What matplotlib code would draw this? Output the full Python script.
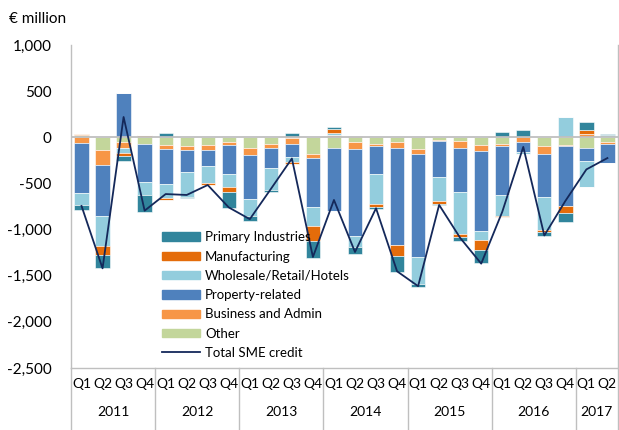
import numpy as np
from matplotlib import pyplot as plt
from matplotlib.ticker import FuncFormatter
from matplotlib.lines import Line2D
from matplotlib.patches import Patch

quarters = ["Q1", "Q2", "Q3", "Q4"] * 6 + ["Q1", "Q2"]
years = ["2011", "2012", "2013", "2014", "2015", "2016", "2017"]

# sector contributions, € million
primary = [-57, -137, -54, -190, 43, -10, 0, -165, -54, -25, 45, -180, 15,
           -72, -22, -169, -29, -10, -40, -144, 54, 79, -43, -108, 90, 10]
manufacturing = [10, -97, -29, 0, -18, 0, -25, -54, 0, 0, -18, -169, 45,
                 15, -36, -119, 0, -29, -36, -108, -11, 0, -22, -72, 40, 0]
wholesale = [-126, -323, -54, -137, -154, -277, -180, -144, -190, -241, -54,
             -208, 20, -119, -323, 0, -295, -266, -456, -97, -226, -29, -352,
             223, -277, 22]
property_rel = [-540, -557, 485, -410, -384, -233, -172, -313, -474, -219,
                -144, -532, -693, -945, -305, -1060, -1117, -384, -478, -862,
                -532, -108, -474, -654, -137, -215]
business = [-65, -162, -72, 25, -43, -43, -61, -36, -83, -43, -65, -43, 30,
            -79, -25, -61, -54, -18, -72, -65, -25, -47, -79, -10, 38, -18]
other = [25, -137, -47, -75, -79, -97, -79, -50, -111, -68, -5, -176, -111,
         -50, -68, -50, -129, -25, -40, -86, -68, 0, -97, -79, -120, -50]
total = [-744, -1420, 220, -795, -615, -625, -517, -760, -887, -560, -230,
         -1297, -679, -1243, -769, -1452, -1613, -733, -1090, -1369, -808,
         -104, -1064, -690, -348, -225]

# stacking order outward from zero
series = [
    ("Other", other, "#C3D69B"),
    ("Business and Admin", business, "#F79646"),
    ("Property-related", property_rel, "#4F81BD"),
    ("Wholesale/Retail/Hotels", wholesale, "#93CDDD"),
    ("Manufacturing", manufacturing, "#E46C0A"),
    ("Primary Industries", primary, "#31859C"),
]

plt.rcParams['font.family'] = ['Lato', 'DejaVu Sans']
fig = plt.figure(figsize=(6.19, 4.30), dpi=100)
ax = fig.add_axes([0.1147, 0.1442, 0.8836, 0.7511])

x = np.arange(len(quarters))
pos_base = np.zeros(len(x))
neg_base = np.zeros(len(x))
for name, vals, col in series:
    v = np.array(vals, dtype=float)
    p = np.where(v > 0, v, 0)
    n = np.where(v < 0, v, 0)
    ax.bar(x, p, 0.68, bottom=pos_base, color=col, edgecolor="white",
           linewidth=0.4, zorder=2)
    ax.bar(x, n, 0.68, bottom=neg_base, color=col, edgecolor="white",
           linewidth=0.4, zorder=2)
    pos_base += p
    neg_base += n

ax.plot(x, total, color="#14285A", linewidth=1.3, zorder=4)
ax.axhline(0, color="#BFBFBF", linewidth=1.3, zorder=3)

ax.set_xlim(-0.5, len(x) - 0.5)
ax.set_ylim(-2500, 1000)
ax.set_yticks(np.arange(-2500, 1001, 500))
ax.yaxis.set_major_formatter(FuncFormatter(lambda v, p: f"{v:,.0f}"))
ax.tick_params(axis="y", length=0, labelsize=11, pad=14)
ax.set_xticks(x)
ax.set_xticklabels(quarters)
ax.tick_params(axis="x", length=0, labelsize=10, pad=7)

ax.spines["top"].set_visible(False)
for s in ["left", "right", "bottom"]:
    ax.spines[s].set_color("#BFBFBF")
    ax.spines[s].set_linewidth(1.0)

# year labels and separators below the axis
trans = ax.get_xaxis_transform()
bounds = [-0.5, 3.5, 7.5, 11.5, 15.5, 19.5, 23.5, 25.5]
for i, yr in enumerate(years):
    mid = (bounds[i] + bounds[i + 1]) / 2
    ax.text(mid, -0.137, yr, transform=trans, ha="center", va="center",
            fontsize=10)
for b in bounds:
    ax.plot([b, b], [0, -0.2], transform=trans, color="#BFBFBF",
            linewidth=1.0, clip_on=False)

fig.text(0.015, 0.955, "€ million", fontsize=11, ha="left", va="center")

handles = [Patch(color=c, label=n) for n, _, c in reversed(series)]
handles.append(Line2D([], [], color="#14285A", linewidth=1.3,
                      label="Total SME credit"))
ax.legend(handles=handles, loc="upper left", bbox_to_anchor=(0.262, 0.462),
          bbox_transform=fig.transFigure, frameon=False, fontsize=9.5,
          handlelength=2.9, handleheight=0.6, handletextpad=0.35,
          labelspacing=0.55, borderaxespad=0, borderpad=0)

plt.savefig("out.png", dpi=100)
